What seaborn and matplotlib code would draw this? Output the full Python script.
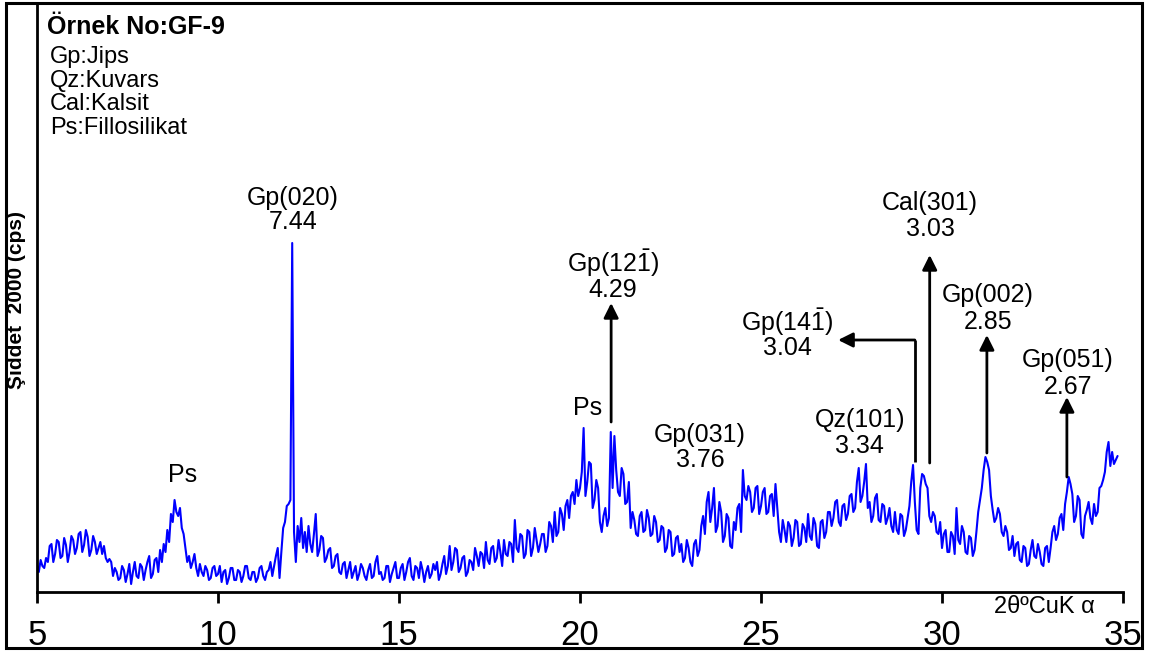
import numpy as np
import pandas as pd
import matplotlib
matplotlib.use("Agg")
import matplotlib.pyplot as plt
import matplotlib.transforms as mtransforms
import seaborn as sns
from matplotlib.patches import Rectangle

# ---------------- data ----------------
# 2-theta (deg, CuKa) from 5.00 in 0.05 steps
two_theta_start = 5.0
two_theta_step = 0.05
# intensity (in units of 5 cps), one row per degree
intensity_rows = [
    [27, 20, 32, 26, 24, 34, 30, 46, 48, 30, 38, 52, 50, 34, 36, 54, 47, 30, 40, 56],          # 5
    [52, 38, 44, 58, 60, 40, 47, 62, 55, 36, 42, 56, 50, 38, 44, 50, 38, 46, 34, 30],          # 6
    [33, 30, 16, 24, 20, 12, 14, 26, 22, 10, 18, 28, 8, 20, 30, 16, 14, 28, 25, 12],           # 7
    [22, 30, 36, 14, 18, 32, 34, 20, 42, 30, 48, 40, 62, 50, 78, 70, 92, 80, 76, 84],          # 8
    [64, 58, 44, 30, 36, 24, 30, 38, 24, 16, 28, 20, 16, 26, 22, 12, 14, 24, 26, 16],          # 9
    [18, 26, 10, 20, 22, 8, 14, 24, 24, 12, 12, 22, 20, 10, 16, 26, 26, 14, 12, 20],           # 10
    [20, 10, 14, 24, 26, 16, 12, 20, 22, 30, 16, 26, 36, 44, 14, 40, 64, 70, 86, 88],          # 11
    [92, 349, 60, 30, 66, 50, 74, 44, 60, 40, 66, 48, 40, 58, 78, 36, 42, 56, 54, 30],         # 12
    [34, 42, 44, 24, 26, 36, 38, 20, 18, 28, 30, 14, 22, 30, 14, 20, 26, 12, 18, 28],          # 13
    [24, 16, 12, 22, 28, 14, 16, 30, 36, 18, 20, 12, 14, 26, 26, 10, 18, 24, 30, 14],          # 14
    [14, 24, 28, 12, 20, 30, 34, 16, 12, 26, 24, 14, 30, 22, 10, 20, 26, 14, 18, 28],          # 15
    [22, 30, 12, 18, 28, 36, 18, 26, 46, 22, 30, 44, 42, 20, 24, 34, 36, 16, 20, 32],          # 16
    [30, 22, 44, 36, 26, 40, 38, 24, 50, 32, 28, 44, 46, 30, 34, 52, 40, 26, 52, 38],          # 17
    [36, 50, 48, 30, 72, 44, 40, 58, 56, 34, 38, 62, 60, 36, 44, 64, 52, 40, 48, 58],          # 18
    [58, 40, 46, 70, 66, 50, 80, 56, 60, 84, 78, 62, 86, 92, 74, 96, 100, 88, 112, 96],        # 19
    [104, 120, 164, 96, 110, 130, 128, 84, 92, 112, 104, 70, 60, 76, 84, 66, 74, 160, 104, 156],  # 20
    [122, 100, 96, 124, 118, 88, 90, 110, 64, 80, 72, 58, 56, 76, 80, 60, 62, 82, 74, 56],     # 21
    [58, 76, 70, 50, 52, 66, 64, 40, 44, 62, 60, 36, 38, 54, 56, 40, 48, 30, 34, 52],          # 22
    [44, 30, 26, 48, 52, 36, 42, 66, 76, 58, 90, 100, 70, 84, 104, 60, 66, 90, 80, 50],        # 23
    [56, 78, 74, 46, 44, 70, 62, 84, 88, 60, 122, 96, 92, 106, 100, 80, 84, 104, 106, 78],     # 24
    [86, 100, 104, 78, 80, 96, 98, 76, 108, 84, 60, 50, 72, 62, 50, 70, 66, 46, 54, 72],       # 25
    [70, 46, 48, 68, 64, 50, 78, 56, 52, 74, 68, 46, 44, 70, 72, 54, 60, 80, 80, 66],          # 26
    [74, 90, 92, 70, 66, 86, 88, 72, 78, 96, 98, 80, 84, 110, 124, 90, 96, 110, 128, 84],      # 27
    [90, 70, 76, 94, 98, 72, 70, 88, 86, 68, 74, 84, 66, 60, 80, 62, 58, 78, 76, 56],          # 28
    [62, 74, 86, 110, 127, 90, 62, 58, 104, 118, 116, 108, 104, 76, 70, 80, 76, 60, 58, 70],   # 29
    [44, 58, 62, 40, 40, 60, 56, 38, 84, 52, 48, 66, 60, 40, 38, 56, 54, 36, 42, 60],          # 30
    [80, 92, 104, 122, 135, 130, 122, 96, 82, 70, 74, 84, 78, 60, 56, 66, 60, 42, 44, 56],     # 31
    [36, 48, 50, 32, 30, 46, 44, 26, 28, 42, 52, 36, 34, 48, 40, 28, 26, 44, 46, 30],          # 32
    [44, 60, 66, 52, 58, 74, 78, 62, 88, 100, 115, 108, 98, 70, 76, 96, 92, 58, 54, 76],       # 33
    [82, 90, 74, 68, 88, 76, 80, 104, 106, 112, 120, 140, 150, 126, 140, 128, 132, 136],       # 34
]
cps_per_unit = 5
intensity = [v * cps_per_unit for row in intensity_rows for v in row]
two_theta = [round(two_theta_start + i * two_theta_step, 2) for i in range(len(intensity))]

# peak labels: name, d-spacing (A), label x (2theta), label line y (cps)
peak_names = ["Gp(020)", r"Gp(12$\bar{\mathrm{1}}$)", "Gp(031)", "Qz(101)",
              r"Gp(14$\bar{\mathrm{1}}$)", "Cal(301)", "Gp(002)", "Gp(051)"]
peak_d = ["7.44", "4.29", "3.76", "3.34", "3.04", "3.03", "2.85", "2.67"]
label_x = [12.07, 20.91, 23.31, 27.73, 25.72, 29.67, 31.27, 33.48]
label_y1 = [1970, 1645, 785, 860, 1350, 1945, 1485, 1160]
label_y2 = [1850, 1510, 660, 730, 1220, 1815, 1350, 1025]

# vertical arrows: x, start, end (cps)
arrow_x = [20.86, 29.66, 31.24, 33.45]
arrow_y0 = [850, 645, 695, 575]
arrow_y1 = [1445, 1685, 1285, 975]
# elbow arrow for Gp(14-1)
elbow_x = [29.25, 29.25, 27.13]
elbow_y = [650, 1260, 1260]

ps_x = [9.03, 20.22]
ps_y = [585, 920]

legend_lines = ["Gp:Jips", "Qz:Kuvars", "Cal:Kalsit", "Ps:Fillosilikat"]
x_ticks = [5, 10, 15, 20, 25, 30, 35]

# ---------------- plot ----------------
sns.set_style("white")
plt.rcParams["font.family"] = ["Liberation Sans", "DejaVu Sans"]
plt.rcParams["mathtext.fontset"] = "custom"
plt.rcParams["mathtext.rm"] = "Liberation Sans"
plt.rcParams["mathtext.it"] = "Liberation Sans:italic"
plt.rcParams["mathtext.bf"] = "Liberation Sans:bold"

W, H = 1153, 659
fig = plt.figure(figsize=(W / 100, H / 100), dpi=100)
fig.patch.set_facecolor("white")

def fx(x):
    return x / W

def fy(y):
    return 1 - y / H

ax_left, ax_right, ax_bottom, ax_top = 37, 1123, 592, 3
ax = fig.add_axes([fx(ax_left), fy(ax_bottom), (ax_right - ax_left) / W, (ax_bottom - ax_top) / H])
ax.set_facecolor("white")

df = pd.DataFrame({"two_theta": two_theta, "intensity": intensity})
sns.lineplot(data=df, x="two_theta", y="intensity", ax=ax, color="#0000FF",
             linewidth=1.5, estimator=None, sort=False)

ax.set_xlim(5, 35)
ax.set_ylim(0, (ax_bottom - ax_top) * cps_per_unit)
ax.set_xlabel("")
ax.set_ylabel("")
ax.set_yticks([])
ax.set_xticks(x_ticks)
ax.set_xticklabels([])
for s in ["top", "right"]:
    ax.spines[s].set_visible(False)
for s in ["left", "bottom"]:
    ax.spines[s].set_visible(True)
    ax.spines[s].set_color("black")
    ax.spines[s].set_linewidth(2.0)
ax.tick_params(axis="x", direction="out", length=8, width=2.0, color="black", bottom=True)

# tick labels
tick_trans = mtransforms.blended_transform_factory(ax.transData, fig.transFigure)
for t in x_ticks:
    ax.text(t, fy(645), str(t), transform=tick_trans,
            ha="center", va="baseline", fontsize=25, color="black", clip_on=False)

fig.text(fx(1095), fy(607), "2θºCuK α", ha="right", va="center", fontsize=17, color="black")

# y label
fig.text(fx(17), fy(300), "Şiddet  2000 (cps)", rotation=90, ha="center", va="center",
         fontsize=15, fontweight="bold", color="black")

# title and legend
fig.text(fx(47), fy(27), "Örnek No:GF-9", ha="left", va="center", fontsize=18,
         fontweight="bold", color="black")
for i, line in enumerate(legend_lines):
    fig.text(fx(50), fy(57 + i * 23.7), line, ha="left", va="center", fontsize=17, color="black")

# peak labels
for name, d, x, y1, y2 in zip(peak_names, peak_d, label_x, label_y1, label_y2):
    ax.text(x, y1, name, ha="center", va="center", fontsize=18, color="black")
    ax.text(x, y2, d, ha="center", va="center", fontsize=18, color="black")
for x, y in zip(ps_x, ps_y):
    ax.text(x, y, "Ps", ha="center", va="center", fontsize=18, color="black")

# arrows
for x, y0, y1 in zip(arrow_x, arrow_y0, arrow_y1):
    ax.annotate("", xy=(x, y1), xytext=(x, y0),
                arrowprops=dict(arrowstyle="-|>", color="black", lw=2.0,
                                mutation_scale=22, shrinkA=0, shrinkB=0))
ax.plot(elbow_x[:2], elbow_y[:2], color="black", lw=2.0, solid_capstyle="butt")
ax.annotate("", xy=(elbow_x[2], elbow_y[2]), xytext=(elbow_x[1], elbow_y[1]),
            arrowprops=dict(arrowstyle="-|>", color="black", lw=2.0,
                            mutation_scale=22, shrinkA=0, shrinkB=0))

# figure frame
fig.patches.append(Rectangle((fx(6), fy(648)), (1142 - 6) / W, (648 - 3) / H,
                             transform=fig.transFigure, fill=False, edgecolor="black",
                             linewidth=2.2))

fig.savefig("out.png", dpi=100, facecolor="white")
